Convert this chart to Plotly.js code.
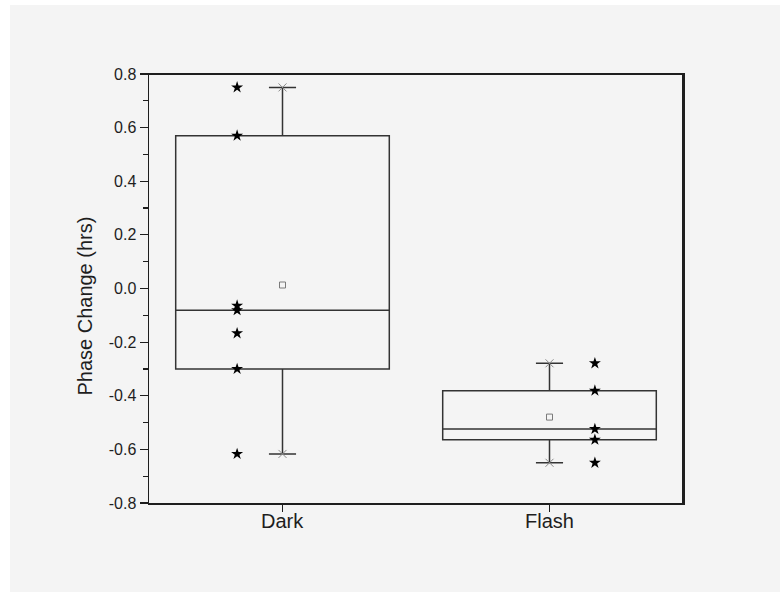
<!DOCTYPE html>
<html>
<head>
<meta charset="utf-8">
<script src="https://cdn.plot.ly/plotly-3.0.1.min.js"></script>
<style>
  html, body { margin: 0; padding: 0; background: #ffffff; }
  #chart { position: absolute; left: 10px; top: 5px; width: 770px; height: 587px; }
</style>
</head>
<body>
<div id="chart"></div>
<script>
// ---- data ----
const categories = ['Dark', 'Flash'];
const darkValues = [0.75, 0.57, -0.064, -0.081, -0.167, -0.30, -0.617];
const flashValues = [-0.279, -0.381, -0.524, -0.564, -0.65];
const yTickValues = [-0.8, -0.6, -0.4, -0.2, 0.0, 0.2, 0.4, 0.6, 0.8];
const yTickLabels = ['-0.8', '-0.6', '-0.4', '-0.2', '0.0', '0.2', '0.4', '0.6', '0.8'];

const series = [darkValues, flashValues];
const pointOffset = [-0.17, 0.17];

function rankQ(arr, p) {
  const s = arr.slice().sort((a, b) => a - b);
  return s[Math.ceil(p * s.length) - 1];
}
function mean(arr) { return arr.reduce((a, b) => a + b, 0) / arr.length; }

const pos = categories.map((c, i) => i);
const q1 = series.map(v => rankQ(v, 0.25));
const med = series.map(v => rankQ(v, 0.5));
const q3 = series.map(v => rankQ(v, 0.75));
const lo = series.map(v => Math.min(...v));
const hi = series.map(v => Math.max(...v));
const mu = series.map(mean);

const traces = [];
traces.push({
  type: 'box',
  x: pos, q1: q1, median: med, q3: q3, lowerfence: lo, upperfence: hi,
  width: 0.8,
  whiskerwidth: 0.127,
  boxpoints: false,
  fillcolor: 'rgba(0,0,0,0)',
  line: { color: '#333333', width: 1.5 },
  hoverinfo: 'skip',
  showlegend: false
});
// whisker end markers
traces.push({
  type: 'scatter', mode: 'markers',
  x: pos.concat(pos), y: lo.concat(hi),
  marker: { symbol: 'x-thin', size: 8, color: '#8a8a8a', line: { color: '#8a8a8a', width: 1 } },
  showlegend: false, hoverinfo: 'skip'
});
// mean markers
traces.push({
  type: 'scatter', mode: 'markers',
  x: pos, y: mu,
  marker: { symbol: 'square-open', size: 6, color: '#7a7a7a', line: { color: '#7a7a7a', width: 1 } },
  showlegend: false, hoverinfo: 'skip'
});
// data points
series.forEach((vals, i) => {
  traces.push({
    type: 'scatter', mode: 'markers',
    x: vals.map(() => pos[i] + pointOffset[i]), y: vals,
    marker: { symbol: 'star', size: 9, color: '#000000', line: { width: 0 } },
    showlegend: false, hoverinfo: 'skip'
  });
});

const axisColor = '#1e1e1e';
const annotations = [{
  text: 'Phase Change (hrs)', xref: 'paper', yref: 'paper',
  x: -0.12, y: 0.46, xanchor: 'center', yanchor: 'middle',
  textangle: -90, showarrow: false,
  font: { size: 20, color: '#1e1e1e' }
}];
categories.forEach((c, i) => {
  annotations.push({
    text: c, xref: 'x', yref: 'paper', x: pos[i], y: -0.043,
    xanchor: 'center', yanchor: 'middle', showarrow: false,
    font: { size: 20, color: '#1e1e1e' }
  });
});

const layout = {
  width: 770, height: 587,
  margin: { l: 139, r: 97, t: 69, b: 89 },
  paper_bgcolor: '#f4f4f4',
  plot_bgcolor: '#f4f4f4',
  font: { family: '"Liberation Sans", Arial, sans-serif', color: '#1e1e1e' },
  showlegend: false,
  xaxis: {
    range: [-0.5, 1.5],
    tickvals: pos, ticktext: categories, showticklabels: false,
    ticks: 'outside', ticklen: 7, tickwidth: 1.2, tickcolor: axisColor,
    showline: true, linecolor: axisColor, linewidth: 1.5, mirror: true,
    showgrid: false, zeroline: false
  },
  yaxis: {
    range: [-0.8, 0.8],
    tickvals: yTickValues, ticktext: yTickLabels,
    ticks: 'outside', ticklen: 8, tickwidth: 1.2, tickcolor: axisColor,
    tickfont: { size: 16 },
    minor: { dtick: 0.1, tick0: 0, ticks: 'outside', ticklen: 5, tickwidth: 1.2, tickcolor: axisColor, showgrid: false },
    showline: true, linecolor: axisColor, linewidth: 1.5, mirror: true,
    showgrid: false, zeroline: false
  },
  shapes: [
    { type: 'line', xref: 'paper', yref: 'paper', x0: 0, x1: 1, y0: 1, y1: 1, line: { color: axisColor, width: 2 } },
    { type: 'line', xref: 'paper', yref: 'paper', x0: 1, x1: 1, y0: 0, y1: 1, line: { color: axisColor, width: 2 } }
  ],
  annotations: annotations
};

Plotly.newPlot('chart', traces, layout, { displayModeBar: false, staticPlot: true });
</script>
</body>
</html>
